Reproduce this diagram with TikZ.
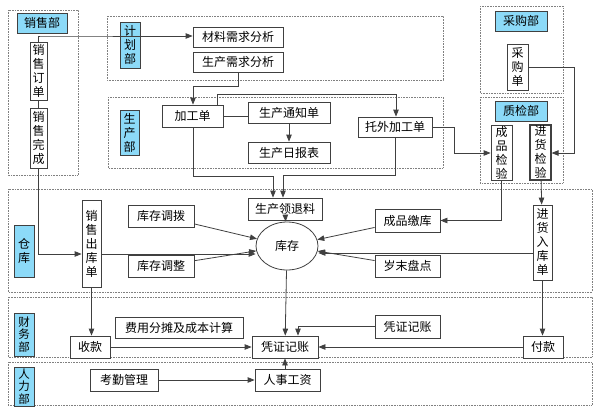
\documentclass[tikz,border=0pt]{standalone}
\usepackage{fontspec}
\setmainfont{Noto Sans CJK SC}
\usetikzlibrary{arrows.meta,shapes.geometric}
\newcommand{\bx}[7][]{%
\pgfmathsetmacro\cx{(#3+#5)/2}\pgfmathsetmacro\cy{(#4+#6)/2}%
\pgfmathsetmacro\ww{#5-#3}\pgfmathsetmacro\hh{#6-#4}%
\node[box,minimum width=\ww pt,minimum height=\hh pt,#1] (#2) at (\cx,\cy) {#7};}
\newcommand{\zone}[4]{\draw[zone] (#1,#2) rectangle (#3,#4);}
\begin{document}
\begin{tikzpicture}[x=1pt,y=-1pt,
 box/.style={draw=black!75,line width=0.8pt,fill=white,inner sep=0pt,align=center,font=\fontsize{12}{13}\selectfont},
 lab/.style={box,fill=cyan!45!white},
 vt/.style={font=\fontsize{12}{14}\selectfont},
 vts/.style={font=\fontsize{11.5}{12.5}\selectfont},
 zone/.style={draw=gray,densely dotted,line width=0.6pt},
 ar/.style={-{Triangle[length=7pt,width=5.5pt]},line width=0.8pt,draw=black!75},
 ln/.style={line width=0.8pt,draw=black!75}]
\useasboundingbox (0,0) rectangle (600,410);
\zone{8}{10}{78}{175}
\zone{107}{16}{443}{80}
\zone{108}{97}{443}{168}
\zone{480}{6}{563}{93}
\zone{480}{97}{563}{183}
\zone{8}{189}{592}{292}
\zone{8}{297}{592}{357}
\zone{8}{362}{592}{405}
% labels
\bx[lab]{xsb}{17}{13}{67}{33}{销售部}
\bx[lab,vt]{jhb}{120}{22}{140}{68}{计\\划\\部}
\bx[lab,vt]{scb}{120}{110}{139}{155}{生\\产\\部}
\bx[lab]{cgb}{495}{11}{547}{31}{采购部}
\bx[lab]{zjb}{495}{101}{547}{121}{质检部}
\bx[lab,vt]{ck}{14}{225}{34}{277}{仓\\库}
\bx[lab,vts]{cwb}{14}{313}{34}{356}{财\\务\\部}
\bx[lab,vts]{rlb}{14}{367}{34}{406}{人\\力\\部}
% boxes
\bx[vt]{xsdd}{30}{42}{47}{100}{销\\售\\订\\单}
\bx[vt]{xswc}{30}{108}{47}{168}{销\\售\\完\\成}
\bx{clxq}{193}{27}{283}{47}{材料需求分析}
\bx{scxq}{193}{52}{283}{72}{生产需求分析}
\bx{jgd}{162}{105}{223}{127}{加工单}
\bx{sctz}{248}{102}{330}{123}{生产通知单}
\bx{scrb}{248}{142}{330}{163}{生产日报表}
\bx{twjg}{358}{117}{432}{137}{托外加工单}
\bx[vt]{cgd}{507}{44}{528}{90}{采\\购\\单}
\bx[vt]{cpjy}{491}{125}{512}{180}{成\\品\\检\\验}
\bx[vt,line width=1.2pt]{jhjy}{530}{125}{551}{180}{进\\货\\检\\验}
\bx[vt]{xsck}{82}{200}{101}{287}{销\\售\\出\\库\\单}
\bx{scll}{248}{198}{322}{220}{生产领退料}
\bx{kcdb}{128}{205}{194}{227}{库存调拨}
\bx{kctz}{128}{255}{194}{277}{库存调整}
\node[draw=black!75,line width=0.8pt,ellipse,minimum width=62pt,minimum height=48pt,inner sep=0pt,font=\fontsize{12}{13}\selectfont] (kc) at (287,246) {库存};
\bx{cpjk}{375}{209}{440}{232}{成品缴库}
\bx{smpd}{375}{255}{440}{277}{岁末盘点}
\bx[vt]{jhrk}{533}{205}{552}{280}{进\\货\\入\\库\\单}
\bx{fyft}{115}{317}{243}{338}{费用分摊及成本计算}
\bx{sk}{70}{336}{110}{358}{收款}
\bx{pzjz}{252}{336}{318}{358}{凭证记账}
\bx{pzjz2}{375}{315}{440}{338}{凭证记账}
\bx{fk}{523}{336}{563}{358}{付款}
\bx{kqgl}{90}{369}{158}{391}{考勤管理}
\bx{rsgz}{255}{369}{320}{391}{人事工资}
% connectors
\draw[ar] (xsdd.north) |- (41,36) -- (clxq.west |- 0,36);
\draw[ln] (xsdd) -- (xswc);
\draw[ar] (scxq.south) |- (193,86) -- (jgd.north -| 193,0);
\draw[ar] (jgd.north -| 217,0) |- (396,94) -- (twjg.north -| 396,0);
\draw[ln] (jgd) -- (sctz.west |- jgd);
\draw[ar] (sctz) -- (scrb);
\draw[ar] (jgd.south -| 193,0) |- (273,176) -- (scll.north -| 273,0);
\draw[ar] (twjg.south) |- (283,175) -- (scll.north -| 283,0);
\draw[ar] (twjg.east) -| (454,153) -- (cpjy.west |- 0,153);
\draw[ar] (cgd.east) -| (574,153) -- (jhjy.east |- 0,153);
\draw[ar] (xswc.south) |- (xsck.west |- 0,254);
\draw[ar] (xsck.east |- 0,254) -- (kc.west |- 0,254);
\draw[ar] (kcdb) -- (kc);
\draw[ar] (kctz) -- (kc);
\draw[ar] (scll) -- (kc);
\draw[ar] (cpjy.south) |- (cpjk.east);
\draw[ar] (cpjk) -- (kc);
\draw[ar] (smpd) -- (kc);
\draw[ar] (jhjy) -- (jhrk);
\draw[ar] (jhrk.west |- 0,253) -- (kc.east |- 0,253);
\draw[ar] (xsck.south) -- (sk.north -| xsck);
\draw[ar] (kc) -- (pzjz);
\draw[ar] (pzjz2.west) -| (pzjz.north -| 298,0);
\draw[ar] (sk) -- (pzjz);
\draw[ar] (fk) -- (pzjz);
\draw[ar] (jhrk.south) -- (fk.north -| jhrk);
\draw[ar] (kqgl) -- (rsgz);
\draw[ar] (rsgz.north -| pzjz) -- (pzjz.south);
\end{tikzpicture}
\end{document}
